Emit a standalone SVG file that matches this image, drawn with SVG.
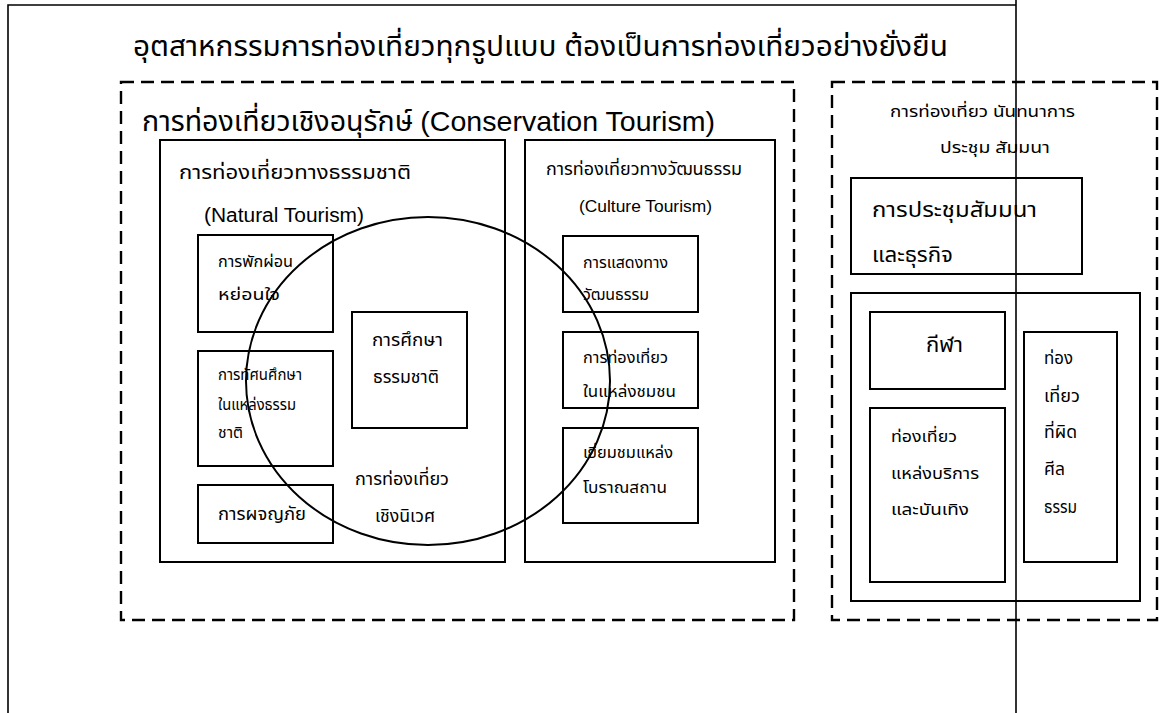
<svg xmlns="http://www.w3.org/2000/svg" width="1159" height="713" viewBox="0 0 1159 713">
<style>
text{font-family:"Noto Sans Thai","Noto Sans","Liberation Sans",sans-serif;fill:#000}
.box{fill:none;stroke:#000;stroke-width:2}
.dash{fill:none;stroke:#000;stroke-width:2.4;stroke-dasharray:13 7}
.ln{fill:none;stroke:#000;stroke-width:1.6}
.lat{font-family:"Liberation Sans",Arial,sans-serif}
</style>
<rect width="1159" height="713" fill="#fff"/>
<g id="frame">
<polyline class="ln" points="8,713 8,5 1016,5"/>
<line class="ln" x1="1016" y1="0" x2="1016" y2="713"/>
</g>
<g id="title"><text x="133" y="56" font-size="28" textLength="815" lengthAdjust="spacingAndGlyphs">อุตสาหกรรมการท่องเที่ยวทุกรูปแบบ ต้องเป็นการท่องเที่ยวอย่างยั่งยืน</text></g>
<g id="conservation">
<rect class="dash" x="121" y="82" width="673" height="538"/>
<text x="142" y="131" font-size="28" textLength="573" lengthAdjust="spacingAndGlyphs">การท่องเที่ยวเชิงอนุรักษ์ <tspan class="lat">(Conservation Tourism)</tspan></text>
</g>
<g id="natural">
<rect class="box" x="160" y="140" width="345" height="422"/>
<text x="179" y="179" font-size="20" textLength="232" lengthAdjust="spacingAndGlyphs">การท่องเที่ยวทางธรรมชาติ</text>
<text class="lat" x="204" y="222" font-size="20" textLength="160" lengthAdjust="spacingAndGlyphs">(Natural Tourism)</text>
</g>
<g id="relax">
<rect class="box" x="198" y="235" width="135" height="97"/>
<text x="218" y="267" font-size="16" textLength="75" lengthAdjust="spacingAndGlyphs">การพักผ่อน</text>
<text x="218" y="300" font-size="16" textLength="62" lengthAdjust="spacingAndGlyphs">หย่อนใจ</text>
</g>
<g id="excursion">
<rect class="box" x="198" y="351" width="135" height="115"/>
<text x="218" y="380" font-size="15" textLength="84" lengthAdjust="spacingAndGlyphs">การทัศนศึกษา</text>
<text x="218" y="410" font-size="15" textLength="78" lengthAdjust="spacingAndGlyphs">ในแหล่งธรรม</text>
<text x="218" y="438" font-size="15" textLength="25" lengthAdjust="spacingAndGlyphs">ชาติ</text>
</g>
<g id="adventure">
<rect class="box" x="198" y="485" width="135" height="58"/>
<text x="218" y="520" font-size="17" textLength="88" lengthAdjust="spacingAndGlyphs">การผจญภัย</text>
</g>
<g id="naturestudy">
<rect class="box" x="352" y="312" width="115" height="116"/>
<text x="372" y="346" font-size="18" textLength="71" lengthAdjust="spacingAndGlyphs">การศึกษา</text>
<text x="373" y="383" font-size="18" textLength="66" lengthAdjust="spacingAndGlyphs">ธรรมชาติ</text>
</g>
<g id="ecotourism">
<ellipse class="box" cx="428" cy="381" rx="182" ry="164"/>
<text x="355" y="485" font-size="18" textLength="94" lengthAdjust="spacingAndGlyphs">การท่องเที่ยว</text>
<text x="375" y="522" font-size="18" textLength="60" lengthAdjust="spacingAndGlyphs">เชิงนิเวศ</text>
</g>
<g id="culture">
<rect class="box" x="525" y="140" width="250" height="422"/>
<text x="546" y="175" font-size="17" textLength="196" lengthAdjust="spacingAndGlyphs">การท่องเที่ยวทางวัฒนธรรม</text>
<text class="lat" x="579" y="212" font-size="17" textLength="133" lengthAdjust="spacingAndGlyphs">(Culture Tourism)</text>
</g>
<g id="performance">
<rect class="box" x="563" y="236" width="135" height="76"/>
<text x="583" y="268" font-size="15" textLength="85" lengthAdjust="spacingAndGlyphs">การแสดงทาง</text>
<text x="583" y="300" font-size="15" textLength="66" lengthAdjust="spacingAndGlyphs">วัฒนธรรม</text>
</g>
<g id="community">
<rect class="box" x="563" y="332" width="135" height="76"/>
<text x="583" y="363" font-size="15" textLength="85" lengthAdjust="spacingAndGlyphs">การท่องเที่ยว</text>
<text x="583" y="397" font-size="15" textLength="93" lengthAdjust="spacingAndGlyphs">ในแหล่งชมชน</text>
</g>
<g id="ancient">
<rect class="box" x="563" y="428" width="135" height="95"/>
<text x="583" y="458" font-size="15" textLength="90" lengthAdjust="spacingAndGlyphs">เยี่ยมชมแหล่ง</text>
<text x="583" y="493" font-size="15" textLength="84" lengthAdjust="spacingAndGlyphs">โบราณสถาน</text>
</g>
<g id="recreation">
<rect class="dash" x="832" y="82" width="325" height="538"/>
<text x="890" y="117" font-size="16" textLength="185" lengthAdjust="spacingAndGlyphs">การท่องเที่ยว นันทนาการ</text>
<text x="940" y="153" font-size="16" textLength="110" lengthAdjust="spacingAndGlyphs">ประชุม สัมมนา</text>
</g>
<g id="meeting">
<rect class="box" x="851" y="178" width="231" height="96"/>
<text x="872" y="217" font-size="22" textLength="165" lengthAdjust="spacingAndGlyphs">การประชุมสัมมนา</text>
<text x="872" y="262" font-size="22" textLength="81" lengthAdjust="spacingAndGlyphs">และธุรกิจ</text>
</g>
<g id="leisure">
<rect class="box" x="851" y="293" width="289" height="308"/>
</g>
<g id="sport">
<rect class="box" x="870" y="312" width="135" height="77"/>
<text x="926" y="352" font-size="21" textLength="37" lengthAdjust="spacingAndGlyphs">กีฬา</text>
</g>
<g id="entertainment">
<rect class="box" x="870" y="408" width="135" height="174"/>
<text x="891" y="442" font-size="16" textLength="66" lengthAdjust="spacingAndGlyphs">ท่องเที่ยว</text>
<text x="891" y="479" font-size="16" textLength="88" lengthAdjust="spacingAndGlyphs">แหล่งบริการ</text>
<text x="891" y="515" font-size="16" textLength="78" lengthAdjust="spacingAndGlyphs">และบันเทิง</text>
</g>
<g id="immoral">
<rect class="box" x="1024" y="332" width="93" height="230"/>
<text x="1044" y="364" font-size="17" textLength="29" lengthAdjust="spacingAndGlyphs">ท่อง</text>
<text x="1044" y="402" font-size="17" textLength="36" lengthAdjust="spacingAndGlyphs">เที่ยว</text>
<text x="1044" y="438" font-size="17" textLength="33" lengthAdjust="spacingAndGlyphs">ที่ผิด</text>
<text x="1044" y="475" font-size="17" textLength="21" lengthAdjust="spacingAndGlyphs">ศีล</text>
<text x="1044" y="513" font-size="17" textLength="33" lengthAdjust="spacingAndGlyphs">ธรรม</text>
</g>
</svg>
